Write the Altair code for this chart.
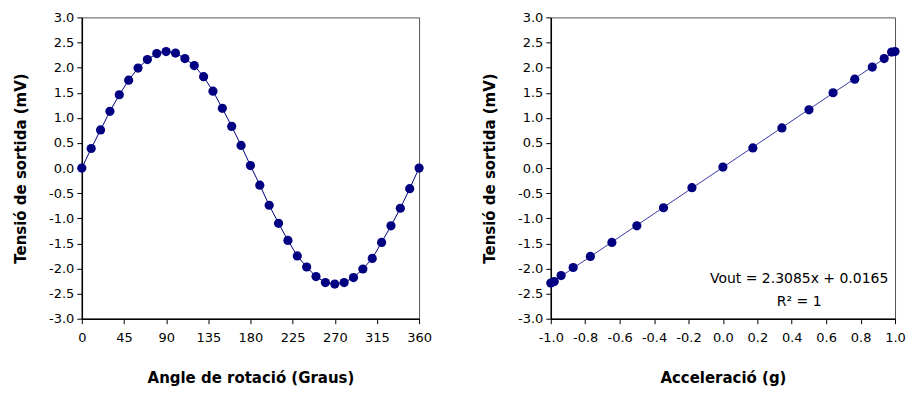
import altair as alt
import pandas as pd

angles = list(range(0, 361, 10))
v_angle = [0.0, 0.39, 0.76, 1.13, 1.46, 1.75, 1.99, 2.16, 2.28, 2.32, 2.29, 2.18,
           2.04, 1.82, 1.53, 1.19, 0.83, 0.45, 0.05, -0.34, -0.74, -1.10, -1.44,
           -1.75, -1.97, -2.16, -2.28, -2.31, -2.28, -2.18, -2.01, -1.80, -1.48,
           -1.15, -0.80, -0.41, 0.0]

accel = [-1.0, -0.98, -0.94, -0.87, -0.77, -0.645, -0.5, -0.345, -0.18, 0.0,
         0.174, 0.343, 0.5, 0.64, 0.766, 0.868, 0.937, 0.98, 1.0]
v_accel = [-2.29, -2.26, -2.14, -1.98, -1.76, -1.48, -1.15, -0.79, -0.39, 0.02,
           0.40, 0.80, 1.16, 1.50, 1.77, 2.01, 2.18, 2.31, 2.32]

y_ticks = [-3.0, -2.5, -2.0, -1.5, -1.0, -0.5, 0.0, 0.5, 1.0, 1.5, 2.0, 2.5, 3.0]
angle_ticks = [0, 45, 90, 135, 180, 225, 270, 315, 360]
accel_ticks = [-1.0, -0.8, -0.6, -0.4, -0.2, 0.0, 0.2, 0.4, 0.6, 0.8, 1.0]

eq_lines = ["Vout = 2.3085x + 0.0165", "R² = 1"]
eq_x = [0.443, 0.443]
eq_y = [-2.21, -2.67]

NAVY = "#000080"
FONT = "DejaVu Sans"
HYPHEN = "replace(datum.label, '\u2212', '-')"

df1 = pd.DataFrame({"a": angles, "v": v_angle})
df2 = pd.DataFrame({"g": accel, "v": v_accel})
df3 = pd.DataFrame({"t": eq_lines, "g": eq_x, "v": eq_y})

yaxis = alt.Axis(values=y_ticks, format=".1f", labelExpr=HYPHEN, grid=False,
                 labelOverlap=False, labelFlush=False,
                 title="Tensió de sortida (mV)", tickSize=5,
                 labelPadding=3, titlePadding=20)
yscale = alt.Scale(domain=[-3, 3], nice=False, zero=False)

x1 = alt.X("a:Q", scale=alt.Scale(domain=[0, 360], nice=False),
           axis=alt.Axis(values=angle_ticks, grid=False, labelOverlap=False,
                         labelFlush=False,
                         title="Angle de rotació (Graus)", tickSize=5,
                         labelPadding=8, titlePadding=26))
y1 = alt.Y("v:Q", scale=yscale, axis=yaxis)

base1 = alt.Chart(df1)
left = alt.layer(
    base1.mark_line(color=NAVY, strokeWidth=1).encode(x=x1, y=y1),
    base1.mark_circle(color=NAVY, size=85, opacity=1).encode(x=x1, y=y1),
).properties(width=338, height=302)

x2 = alt.X("g:Q", scale=alt.Scale(domain=[-1, 1], nice=False),
           axis=alt.Axis(values=accel_ticks, format=".1f", labelExpr=HYPHEN,
                         labelOverlap=False, labelFlush=False, grid=False,
                         title="Acceleració (g)",
                         tickSize=5, labelPadding=8, titlePadding=26))
y2 = alt.Y("v:Q", scale=yscale, axis=yaxis)

base2 = alt.Chart(df2)
right = alt.layer(
    base2.mark_line(color="#3838A8", strokeWidth=1).encode(x=x2, y=y2)
        .transform_regression("g", "v", extent=[-1, 1]),
    base2.mark_circle(color=NAVY, size=85, opacity=1).encode(x=x2, y=y2),
    alt.Chart(df3).mark_text(font=FONT, fontSize=14, color="black", align="center")
        .encode(x=x2, y=y2, text="t:N"),
).properties(width=345, height=302)

chart = alt.hconcat(left, right, spacing=50).properties(
    padding={"left": 13, "top": 10, "right": 0, "bottom": 5}
).configure_view(
    stroke="#555555", strokeWidth=1
).configure_axis(
    domainColor="black", tickColor="black", labelFont=FONT, titleFont=FONT,
    labelFontSize=13, titleFontSize=15, titleFontWeight="bold",
    labelColor="black", titleColor="black", domainWidth=1.5
)

chart.save("out.html", embed_options={"renderer": "svg", "actions": False})
